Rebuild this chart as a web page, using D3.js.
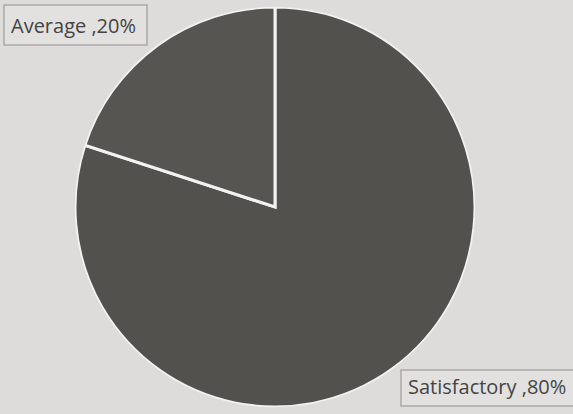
<!DOCTYPE html>
<html><head><meta charset="utf-8">
<script src="https://cdn.jsdelivr.net/npm/d3@7"></script>
<style>html,body{margin:0;padding:0;background:#dddcda;}</style>
</head><body>
<svg id="c" width="573" height="414"></svg>
<script>
const categories = ["Satisfactory", "Average"];
const values = [80, 20];
const labels = ["Satisfactory ,80%", "Average ,20%"];

const svg = d3.select("#c");
svg.append("rect").attr("width",573).attr("height",414).attr("fill","#dddcda");
const cx = 275, cy = 207, r = 200;
const pie = d3.pie().sort(null).startAngle(0).endAngle(2*Math.PI)(values);
const arc = d3.arc().innerRadius(0).outerRadius(r);
const g = svg.append("g").attr("transform",`translate(${cx},${cy})`);
const colors = d3.scaleOrdinal().domain(categories).range(["#52514e","#565552"]);
g.selectAll("path").data(pie).join("path")
  .attr("d", arc)
  .attr("fill", (d,i)=>colors(categories[i]))
  .attr("stroke","#f2f2f0").attr("stroke-width",3).attr("stroke-linejoin","miter");
g.append("circle").attr("r", r+2).attr("fill","none").attr("stroke","#dddcda").attr("stroke-width",3.5);

function labelBox(text, x, y, w, h, by) {
  svg.append("rect").attr("x",x).attr("y",y).attr("width",w).attr("height",h)
    .attr("fill","#e2e1df").attr("stroke","#9e9d9b").attr("stroke-width",1.2);
  svg.append("text").attr("x",x+7).attr("y",by)
    .attr("font-family","'Open Sans', 'DejaVu Sans', sans-serif").attr("font-size",20)
    .attr("fill","#444").text(text);
}
labelBox(labels[1], 4, 5, 143, 40, 33);
labelBox(labels[0], 401, 370, 180, 36, 394);
</script>
</body></html>
